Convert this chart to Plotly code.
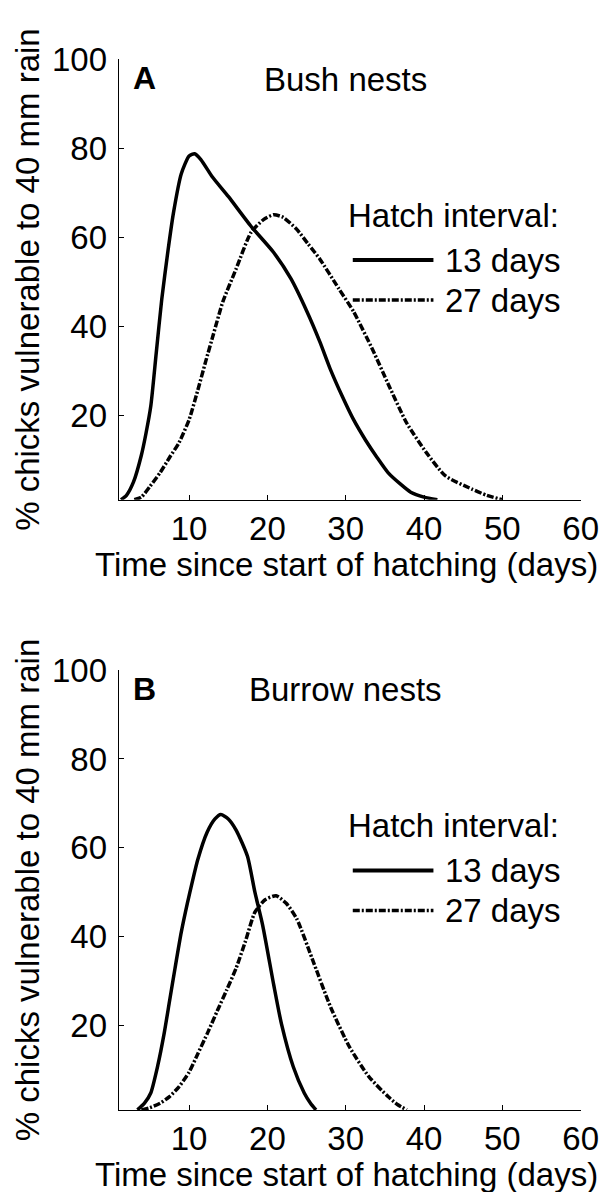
import plotly.graph_objects as go

# --- data ---
# A: bush nests
bush_13_days = [1.3, 2.0, 2.9, 3.9, 4.5, 5.1, 5.8, 6.5, 7.3, 8.0, 9.0, 10.0, 10.7, 11.5, 13.0,
                15.0, 17.9, 20.8, 23.0, 25.0, 26.7, 28.0, 29.6, 31.0, 32.5, 34.0, 35.4, 37.0,
                38.3, 40.0, 41.7]
bush_13_pct = [1, 2, 5, 11, 16, 22, 34, 46, 57, 65.5, 74.3, 78.3, 78.8, 77.5, 73.5,
               69.2, 62.5, 56.6, 50.7, 43.5, 36.5, 30.5, 24.1, 19, 14.5, 10.5, 7.1, 4.5,
               2.7, 1.6, 1]
bush_27_days = [3.0, 3.9, 5.0, 6.3, 7.5, 8.7, 10.0, 11.1, 12.1, 13.1, 14.3, 16.0, 17.9, 19.5,
                20.8, 22.0, 23.75, 25.2, 26.7, 29.1, 31.0, 33.5, 35.4, 37.8, 40.3, 42.7,
                46.1, 48.0, 50.0]
bush_27_pct = [1, 1.6, 4, 7.1, 10.5, 13.8, 19, 25.6, 32, 38.2, 45.5, 52.9, 61.1, 64,
               65.1, 64.5, 61.8, 58.5, 55.1, 48.5, 43.3, 34.5, 27.1, 18.2, 11.6, 6.4,
               3.4, 2, 1]

# B: burrow nests
burrow_13_days = [3.4, 4.3, 5.1, 6.0, 6.8, 7.5, 8.2, 9.0, 9.8, 10.1, 11.1, 12.3, 13.3, 14.05,
                  15.0, 16.0, 17.45, 18.4, 19.4, 20.8, 21.8, 23.3, 24.7, 25.5, 26.2]
burrow_13_pct = [1, 2.5, 4.8, 11, 18.1, 25.5, 32.9, 41, 47.7, 50, 57.3, 63.5, 66.5, 67.5,
                 66.5, 64.0, 58.1, 50, 42.5, 29.2, 20.3, 10.7, 4.8, 2.5, 1]
burrow_27_days = [3.9, 5.0, 6.3, 7.5, 8.7, 10.0, 11.1, 12.4, 13.6, 14.8, 16.0, 17.2, 18.4, 19.7,
                  21.1, 22.4, 23.75, 25.7, 28.1, 30.5, 32.95, 35.4, 36.6, 37.8]
burrow_27_pct = [1, 1.5, 2.5, 4, 6.2, 9.5, 13.6, 18.5, 23.3, 28, 32.9, 39, 45.5, 48.3,
                 49.2, 47.5, 44.0, 35.1, 24.0, 15.1, 8.5, 4.0, 2.2, 1]

x_ticks = [10, 20, 30, 40, 50, 60]
y_ticks = [20, 40, 60, 80, 100]
panels = [("A", "Bush nests"), ("B", "Burrow nests")]
legend_labels = ["13 days", "27 days"]
x_title = "Time since start of hatching (days)"
y_title = "% chicks vulnerable to 40 mm rain"

W, H = 612, 1192
FONT = "Liberation Sans, Arial, sans-serif"
DASHDOT = "7px,2px,2px,2px"
# pixel rows of each panel: (top, bottom, x-title centre)
PANEL_PX = [(34, 481, 547), (654, 1100.5, 1166)]

fig = go.Figure()

curves = [
    (bush_13_days, bush_13_pct, "x", "y", "solid", 3.5),
    (bush_27_days, bush_27_pct, "x", "y", DASHDOT, 3.5),
    (burrow_13_days, burrow_13_pct, "x2", "y2", "solid", 3.5),
    (burrow_27_days, burrow_27_pct, "x2", "y2", DASHDOT, 3.5),
]
for xs, ys, xa, ya, dash, w in curves:
    fig.add_trace(go.Scatter(x=xs, y=ys, mode="lines", xaxis=xa, yaxis=ya,
                             line=dict(color="black", width=w, dash=dash,
                                       shape="spline", smoothing=0.6),
                             showlegend=False, hoverinfo="skip"))

def xax(anchor):
    return dict(domain=[114 / W, 590 / W], range=[1, 60], tickvals=x_ticks,
                ticks="inside", ticklen=5, tickcolor="black", tickwidth=1,
                showline=True, linecolor="black", linewidth=1,
                showgrid=False, zeroline=False, anchor=anchor,
                tickfont=dict(size=33, color="black"), ticklabelstandoff=0)

def yax(top_px, bottom_px, anchor):
    return dict(domain=[1 - bottom_px / H, 1 - top_px / H], range=[1, 100], tickvals=y_ticks,
                ticks="inside", ticklen=5, tickcolor="black", tickwidth=1,
                showline=True, linecolor="black", linewidth=1,
                showgrid=False, zeroline=False, anchor=anchor,
                tickfont=dict(size=33, color="black"), ticklabelstandoff=4,
                title=dict(text=y_title, font=dict(size=33, color="black"), standoff=2))

annotations = []
shapes = []
for i, (letter, name) in enumerate(panels):
    xr = "x" if i == 0 else "x2"
    yr = "y" if i == 0 else "y2"
    annotations += [
        dict(x=4.35, y=95.8, xref=xr, yref=yr, text="<b>%s</b>" % letter, showarrow=False,
             font=dict(size=32, color="black")),
        dict(x=30.0, y=95.6, xref=xr, yref=yr, text=name, showarrow=False,
             font=dict(size=33, color="black")),
        dict(x=30.0, y=65.0, xref=xr, yref=yr, text="Hatch interval:", showarrow=False,
             xanchor="left", font=dict(size=33, color="black")),
        dict(x=349 / W, y=1 - PANEL_PX[i][2] / H, xref="paper", yref="paper", text=x_title,
             xanchor="center", yanchor="middle",
             showarrow=False, font=dict(size=33, color="black")),
    ]
    for ly, lab, dash, w in [(54.9, legend_labels[0], "solid", 4), (45.9, legend_labels[1], DASHDOT, 3.5)]:
        shapes.append(dict(type="line", xref=xr, yref=yr, x0=30.9, x1=41.2, y0=ly, y1=ly,
                           line=dict(color="black", width=w, dash=dash)))
        annotations.append(dict(x=42.4, y=ly, xref=xr, yref=yr, text=lab, showarrow=False,
                                xanchor="left", font=dict(size=33, color="black")))

fig.update_layout(
    width=W, height=H,
    margin=dict(l=0, r=0, t=0, b=0),
    paper_bgcolor="white", plot_bgcolor="white",
    font=dict(family=FONT, color="black"),
    xaxis=xax("y"), yaxis=yax(PANEL_PX[0][0], PANEL_PX[0][1], "x"),
    xaxis2=xax("y2"), yaxis2=yax(PANEL_PX[1][0], PANEL_PX[1][1], "x2"),
    annotations=annotations, shapes=shapes,
    showlegend=False,
)

fig.write_html("out.html")
